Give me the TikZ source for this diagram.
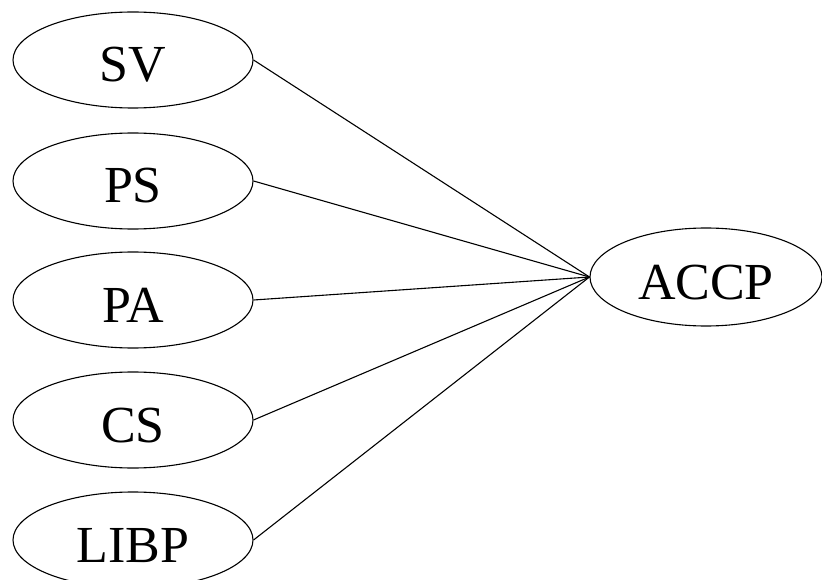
\documentclass[tikz,border=0pt]{standalone}
\usepackage{fontspec}
\setmainfont{Liberation Serif}
\usetikzlibrary{shapes.geometric}

\begin{document}
\begin{tikzpicture}[
    x=1pt, y=-1pt,
    factor/.style={ellipse, draw, line width=1.1pt, minimum width=240pt, minimum height=96pt, inner sep=0pt, text height=44pt, text depth=0pt, font=\fontsize{52}{52}\selectfont},
    target/.style={factor, minimum width=232pt, minimum height=98pt},
    link/.style={line width=1.1pt}
]
\useasboundingbox (0,0) rectangle (822,580);

% Left column
\node[factor] (sv) at (133, 60) {SV};
\node[factor] (ps) at (133, 181) {PS};
\node[factor] (pa) at (133, 300) {PA};
\node[factor] (cs) at (133, 420) {CS};
\node[factor] (libp) at (133, 540) {LIBP};

% Right node
\node[target] (accp) at (706, 277) {ACCP};

% Links
\draw[link] (sv.east) -- (accp.west);
\draw[link] (ps.east) -- (accp.west);
\draw[link] (pa.east) -- (accp.west);
\draw[link] (cs.east) -- (accp.west);
\draw[link] (libp.east) -- (accp.west);

\end{tikzpicture}
\end{document}
